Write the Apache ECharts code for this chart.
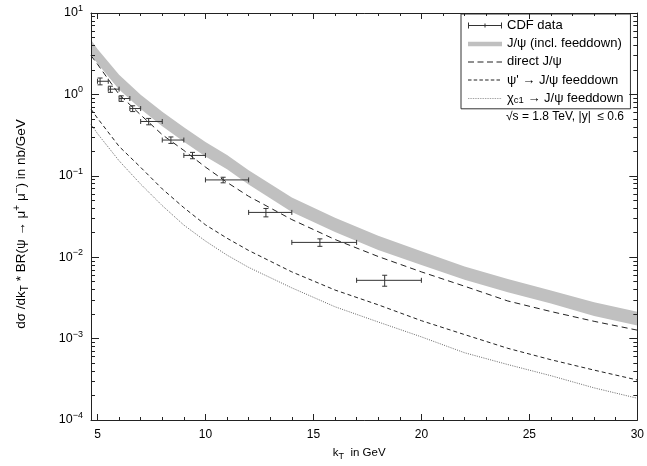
<!DOCTYPE html>
<html><head><meta charset="utf-8">
<script src="https://cdn.jsdelivr.net/npm/echarts@6/dist/echarts.min.js"></script>
<style>html,body{margin:0;padding:0;background:#fff}#c{width:647px;height:466px}</style>
</head><body><div id="c"></div>
<script>
// ---- data ----
const kGrid        = [4.7, 5, 6, 7, 8, 9, 10, 11, 12, 14, 16, 18, 20, 22, 24, 26, 28, 30];
const bandUpper    = [4.7, 3.6, 1.74, 0.99, 0.61, 0.395, 0.26, 0.18, 0.117, 0.054, 0.0305, 0.0183, 0.0118, 0.0077, 0.0054, 0.0039, 0.0028, 0.00214];
const bandLower    = [3.1, 2.4, 1.15, 0.66, 0.405, 0.262, 0.173, 0.12, 0.078, 0.036, 0.0204, 0.0123, 0.0080, 0.0053, 0.0037, 0.0027, 0.0019, 0.00145];
const directJpsi   = [3.0, 2.35, 1.0, 0.56, 0.32, 0.205, 0.128, 0.083, 0.056, 0.029, 0.0165, 0.0102, 0.0066, 0.0044, 0.0029, 0.00215, 0.00163, 0.00127];
const psiPrimeFeed = [0.66, 0.51, 0.23, 0.127, 0.069, 0.0406, 0.025, 0.0171, 0.0121, 0.0066, 0.00395, 0.0026, 0.00166, 0.00112, 0.00076, 0.00055, 0.00041, 0.00031];
const chiC1Feed    = [0.43, 0.33, 0.153, 0.079, 0.043, 0.0248, 0.0158, 0.0106, 0.0075, 0.0042, 0.00246, 0.0016, 0.00105, 0.00067, 0.00048, 0.00035, 0.000248, 0.000185];

const cdfK   = [5.12, 5.6, 6.1, 6.63, 7.37, 8.4, 9.4, 10.82, 12.8, 15.3, 18.3];
const cdfKLo = [5, 5.5, 6, 6.5, 7, 8, 9, 10, 12, 14, 17];
const cdfKHi = [5.5, 6, 6.5, 7, 8, 9, 10, 12, 14, 17, 20];
const cdfVal = [1.45, 1.16, 0.89, 0.67, 0.465, 0.275, 0.178, 0.089, 0.0355, 0.0152, 0.0052];
const cdfErr = [0.14, 0.1, 0.07, 0.055, 0.042, 0.025, 0.016, 0.007, 0.0042, 0.0016, 0.0008];

const xTickLabels = [5, 10, 15, 20, 25, 30];
const xMinorTicks = [5,6,7,8,9,10,11,12,13,14,15,16,17,18,19,20,21,22,23,24,25,26,27,28,29,30];
const yDecades    = [-4, -3, -2, -1, 0, 1];
const yExpLabels  = ['−4', '−3', '−2', '−1', '0', '1'];
const yMantissas  = [2, 3, 4, 5, 6, 7, 8, 9];

const names = {
  cdf: 'CDF data',
  band: 'J/ψ (incl. feeddown)',
  direct: 'direct J/ψ',
  psip: 'ψ\' → J/ψ feeddown',
  chi: 'χc1 → J/ψ feeddown'
};

// ---- build ----
const FONT = '"Liberation Sans", Arial, Helvetica, sans-serif';
const AX = '#222';
const zip = (xs, ys) => xs.map((x, i) => [x, ys[i]]);
const yMinorLog = [];
yDecades.slice(0, -1).forEach(d => yMantissas.forEach(m => yMinorLog.push(d + Math.log10(m))));

const chart = echarts.init(document.getElementById('c'), null, {renderer: 'canvas'});

const xBase = {type: 'value', min: 4.7, max: 30, z: 5, splitLine: {show: false}};
const yLogBase = {type: 'log', logBase: 10, min: 1e-4, max: 10, z: 5, splitNumber: 5, splitLine: {show: false}, minorTick: {show: false}};
const yLinBase = {type: 'value', min: -4, max: 1, z: 5, splitLine: {show: false}};
const lineOff = {show: false, onZero: false};

// legend icons (anchored 34x10 boxes)
const A0 = 'M0,0h0.01v0.01h-0.01z ', A1 = ' M33.99,9.99h0.01v0.01h-0.01z';
const dashIcon = (dash, gap, h) => {
  let p = A0; let x = 0;
  while (x < 34) { const w = Math.min(dash, 34 - x); p += 'M' + x + ',' + (5 - h / 2) + 'h' + w + 'v' + h + 'h' + (-w) + 'z '; x += dash + gap; }
  return 'path://' + p + A1;
};

const option = {
  animation: false,
  backgroundColor: '#fff',
  grid: {left: 91, right: 6, top: 13, bottom: 44, containLabel: false},
  xAxis: [
    Object.assign({}, xBase, {
      position: 'bottom',
      axisLine: {show: true, onZero: false, lineStyle: {color: AX, width: 1}},
      axisTick: {show: true, inside: true, length: 6, customValues: xTickLabels, lineStyle: {color: AX}},
      axisLabel: {show: true, customValues: xTickLabels, margin: 9, fontSize: 12, fontFamily: FONT, color: '#000'},
      name: '{n|k}{sub|T}{n|  in GeV}',
      nameLocation: 'middle', nameGap: 25,
      nameTextStyle: {fontFamily: FONT, fontSize: 11.5, color: '#000', padding: [0, 10, 0, 0],
        rich: {n: {fontFamily: FONT, fontSize: 11.5, color: '#000', lineHeight: 16},
               sub: {fontFamily: FONT, fontSize: 9, color: '#000', lineHeight: 9, verticalAlign: 'bottom'}}}
    }),
    Object.assign({}, xBase, {
      position: 'bottom', axisLine: lineOff,
      axisTick: {show: true, inside: true, length: 3, customValues: xMinorTicks, lineStyle: {color: AX}},
      axisLabel: {show: false}
    }),
    Object.assign({}, xBase, {
      position: 'top',
      axisLine: {show: true, onZero: false, lineStyle: {color: AX, width: 1}},
      axisTick: {show: true, inside: true, length: 6, customValues: xTickLabels, lineStyle: {color: AX}},
      axisLabel: {show: false}
    }),
    Object.assign({}, xBase, {
      position: 'top', axisLine: lineOff,
      axisTick: {show: true, inside: true, length: 3, customValues: xMinorTicks, lineStyle: {color: AX}},
      axisLabel: {show: false}
    })
  ],
  yAxis: [
    Object.assign({}, yLogBase, {
      position: 'left',
      axisLine: {show: true, onZero: false, lineStyle: {color: AX, width: 1}},
      axisTick: {show: true, inside: true, length: 8, lineStyle: {color: AX}},
      axisLabel: {
        show: true, margin: 8,
        formatter: v => {
          const e = Math.round(Math.log10(v));
          const i = yDecades.indexOf(e);
          return '{b|10}{s|' + (i >= 0 ? yExpLabels[i] : e) + '}';
        },
        rich: {
          b: {fontFamily: FONT, fontSize: 12.5, color: '#000', lineHeight: 18},
          s: {fontFamily: FONT, fontSize: 9, color: '#000', lineHeight: 10, verticalAlign: 'top'}
        }
      },
      name: '{n|dσ /dk}{sub|T}{n| * BR(ψ → μ}{sup|+}{n| μ}{sup|−}{n|) in nb/GeV}',
      nameLocation: 'middle', nameGap: 61, nameRotate: 90,
      nameTextStyle: {fontFamily: FONT, fontSize: 13.5, color: '#000', padding: [0, 15, 0, 0],
        rich: {n: {fontFamily: FONT, fontSize: 13.5, color: '#000', lineHeight: 18},
               sub: {fontFamily: FONT, fontSize: 10, color: '#000', lineHeight: 9, verticalAlign: 'bottom'},
               sup: {fontFamily: FONT, fontSize: 10, color: '#000', lineHeight: 9, verticalAlign: 'top'}}}
    }),
    Object.assign({}, yLinBase, {
      position: 'left', axisLine: lineOff,
      axisTick: {show: true, inside: true, length: 4, customValues: yMinorLog, lineStyle: {color: AX}},
      axisLabel: {show: false}
    }),
    Object.assign({}, yLogBase, {
      position: 'right',
      axisLine: {show: true, onZero: false, lineStyle: {color: AX, width: 1}},
      axisTick: {show: true, inside: true, length: 8, lineStyle: {color: AX}},
      axisLabel: {show: false}
    }),
    Object.assign({}, yLinBase, {
      position: 'right', axisLine: lineOff,
      axisTick: {show: true, inside: true, length: 4, customValues: yMinorLog, lineStyle: {color: AX}},
      axisLabel: {show: false}
    })
  ],
  legend: {
    orient: 'vertical', left: 461, top: 14,
    padding: [4, 7, 3, 7], itemGap: 3.2,
    itemWidth: 34, itemHeight: 10,
    borderColor: '#333', borderWidth: 1, backgroundColor: '#fff',
    selectedMode: false,
    textStyle: {fontFamily: FONT, fontSize: 13, color: '#000', lineHeight: 15,
      rich: {chi: {fontFamily: FONT, fontSize: 13, color: '#000', lineHeight: 15},
             sub: {fontFamily: FONT, fontSize: 9.5, color: '#000', lineHeight: 8, verticalAlign: 'bottom'}}},
    formatter: n => n.indexOf('χc1') === 0 ? '{chi|χ}{sub|c1}' + n.slice(3) : n,
    data: [
      {name: names.cdf, icon: 'path://' + A0 + 'M0,4.5H34V5.5H0Z M0,2H1V8H0Z M16.5,3H17.5V7H16.5Z M33,2H34V8H33Z' + A1, itemStyle: {color: '#333'}},
      {name: names.band, icon: 'path://' + A0 + 'M0,3H34V7.5H0Z' + A1, itemStyle: {color: '#c0c0c0'}},
      {name: names.direct, icon: dashIcon(6, 3.5, 1), itemStyle: {color: '#222'}},
      {name: names.psip, icon: dashIcon(3.5, 2.2, 1), itemStyle: {color: '#222'}},
      {name: names.chi, icon: dashIcon(0.8, 0.9, 0.8), itemStyle: {color: '#666'}}
    ]
  },
  graphic: [{
    type: 'text', x: 565, y: 117, z: 10,
    style: {text: '√s = 1.8 TeV, |y|  ≤ 0.6', font: '12px ' + FONT, fill: '#000', textAlign: 'center', textVerticalAlign: 'middle'}
  }],
  series: [
    {
      name: names.band, type: 'line', data: zip(kGrid, bandUpper),
      smooth: false, symbol: 'none', z: 1,
      itemStyle: {color: '#c0c0c0'},
      lineStyle: {width: 0, color: '#c0c0c0'},
      areaStyle: {color: '#c0c0c0', opacity: 1, origin: 'start'}
    },
    {
      name: 'bandLowerMask', type: 'line', data: zip(kGrid, bandLower),
      smooth: false, symbol: 'none', z: 1,
      lineStyle: {width: 0, color: '#fff'},
      areaStyle: {color: '#fff', opacity: 1, origin: 'start'}
    },
    {
      name: names.direct, type: 'line', data: zip(kGrid, directJpsi),
      smooth: false, symbol: 'none', z: 3,
      itemStyle: {color: '#222'},
      lineStyle: {width: 1, color: '#222', type: [6, 4]}
    },
    {
      name: names.psip, type: 'line', data: zip(kGrid, psiPrimeFeed),
      smooth: false, symbol: 'none', z: 3,
      itemStyle: {color: '#222'},
      lineStyle: {width: 1, color: '#222', type: [4, 3]}
    },
    {
      name: names.chi, type: 'line', data: zip(kGrid, chiC1Feed),
      smooth: false, symbol: 'none', z: 3,
      itemStyle: {color: '#555'},
      lineStyle: {width: 0.9, color: '#555', type: [1, 1.3]}
    },
    {
      name: names.cdf, type: 'custom', z: 4,
      itemStyle: {color: '#333'},
      encode: {x: [0, 1, 2], y: [3]},
      data: cdfK.map((k, i) => [k, cdfKLo[i], cdfKHi[i], cdfVal[i], cdfErr[i]]),
      renderItem: (params, api) => {
        const k = api.value(0), lo = api.value(1), hi = api.value(2), v = api.value(3), e = api.value(4);
        const pl = api.coord([lo, v]), ph = api.coord([hi, v]);
        const pc = api.coord([k, v]);
        const pt = api.coord([k, v + e]), pb = api.coord([k, v - e]);
        const st = {stroke: '#333', lineWidth: 1, fill: null};
        const L = (x1, y1, x2, y2) => ({type: 'line', shape: {x1, y1, x2, y2}, style: st});
        const c = 2.5;
        return {type: 'group', children: [
          L(pl[0], pl[1], ph[0], ph[1]),
          L(pl[0], pl[1] - c, pl[0], pl[1] + c),
          L(ph[0], ph[1] - c, ph[0], ph[1] + c),
          L(pc[0], pt[1], pc[0], pb[1]),
          L(pc[0] - c, pt[1], pc[0] + c, pt[1]),
          L(pc[0] - c, pb[1], pc[0] + c, pb[1])
        ]};
      }
    }
  ]
};
chart.setOption(option);
</script>
</body></html>
